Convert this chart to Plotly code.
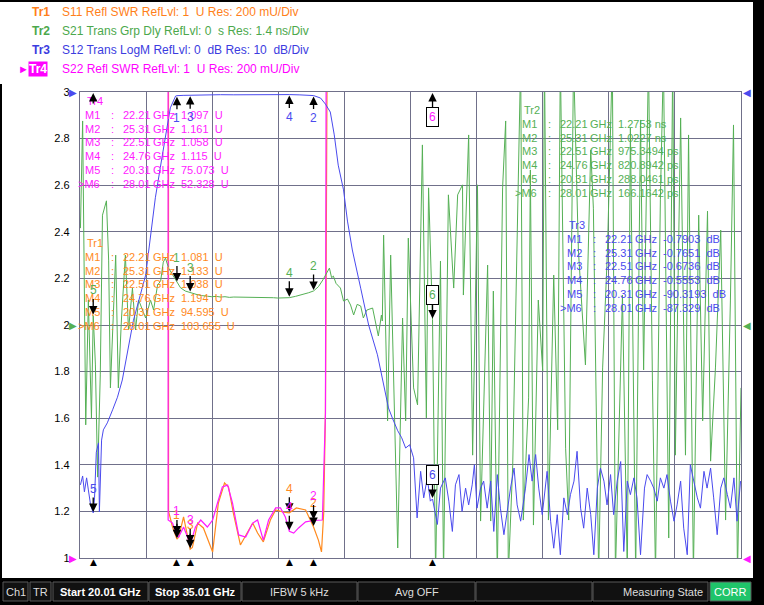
"""VNA screen capture: filter S-parameters (SWR, group delay, LogM) with
marker readouts, redrawn with plotly."""

import plotly.graph_objects as go

FONT = "Liberation Sans"
ORANGE = "#ff8a1e"
GREEN = "#55b055"
BLUE = "#4a4aee"
MAGENTA = "#ff1aff"
GRID = "#70708a"

# ---- marker readouts -------------------------------------------------------
MARKER_GHZ = [22.21, 25.31, 22.51, 24.76, 20.31, 28.01]
MARKER_NAMES = ["M1", "M2", "M3", "M4", "M5", ">M6"]

TR1_MARK_U = [1.081, 1.133, 1.038, 1.194, 94.595, 103.655]
TR2_MARK_NS = [1.2753, 1.0227, 0.9753494, 0.8208942, 0.2880461, 0.1661642]
TR3_MARK_DB = [-0.7903, -0.7651, -0.6736, -0.5553, -90.3193, -87.329]
TR4_MARK_U = [1.097, 1.161, 1.058, 1.115, 75.073, 52.328]

TR1_READ = ["1.081  U", "1.133  U", "1.038  U", "1.194  U", "94.595  U", "103.655  U"]
TR2_READ = ["1.2753 ns", "1.0227 ns", "975.3494 ps", "820.8942 ps",
            "288.0461 ps", "166.1642 ps"]
TR3_READ = ["-0.7903  dB", "-0.7651  dB", "-0.6736  dB", "-0.5553  dB",
            "-90.3193  dB", "-87.329  dB"]
TR4_READ = ["1.097  U", "1.161  U", "1.058  U", "1.115  U", "75.073  U", "52.328  U"]

# ---- Tr1: S11 SWR ----------------------------------------------------------
TR1_GHZ = [20.01, 20.31, 21.2, 21.99, 22.02, 22.11, 22.18, 22.21, 22.25, 22.36,
           22.47, 22.51, 22.56, 22.68, 22.81, 23.02, 23.15, 23.29, 23.38, 23.49,
           23.65, 23.81, 23.93, 24.04, 24.17, 24.33, 24.45, 24.63, 24.76, 24.92,
           25.13, 25.31, 25.42, 25.49, 25.54, 25.58, 25.63, 25.66, 28.01, 35.01]
TR1_SWR = [96.0, 94.595, 80.0, 40.0, 1.20, 1.133, 1.099, 1.081, 1.090, 1.176,
           1.077, 1.038, 1.045, 1.150, 1.129, 1.026, 1.236, 1.322, 1.305, 1.193,
           1.056, 1.107, 1.150, 1.107, 1.069, 1.163, 1.206, 1.197, 1.194, 1.215,
           1.206, 1.133, 1.077, 1.026, 1.193, 1.62, 3.6, 40.0, 103.655, 110.0]

# ---- Tr4: S22 SWR ----------------------------------------------------------
TR4_GHZ = [20.01, 20.31, 21.2, 21.99, 22.01, 22.11, 22.18, 22.21, 22.25, 22.36,
           22.45, 22.51, 22.63, 22.75, 22.90, 23.02, 23.13, 23.24, 23.36, 23.47,
           23.61, 23.77, 23.93, 24.04, 24.17, 24.29, 24.45, 24.56, 24.67, 24.76,
           24.86, 24.97, 25.13, 25.31, 25.51, 25.54, 25.58, 25.60, 25.62, 28.01,
           35.01]
TR4_SWR = [78.0, 75.073, 70.0, 45.0, 1.163, 1.150, 1.107, 1.097, 1.090, 1.133,
           1.090, 1.058, 1.133, 1.163, 1.133, 1.163, 1.236, 1.305, 1.313, 1.236,
           1.099, 1.090, 1.150, 1.163, 1.077, 1.163, 1.215, 1.215, 1.176, 1.115,
           1.107, 1.129, 1.155, 1.161, 1.163, 1.335, 1.622, 3.5, 45.0, 52.328,
           60.0]

# ---- Tr2: S21 group delay (ns) ---------------------------------------------
TR2_GHZ = [20.02, 20.07, 20.14, 20.20, 20.27, 20.31, 20.36, 20.41, 20.47, 20.52,
           20.61, 20.66, 20.70, 20.77, 20.82, 20.88, 20.95, 21.04, 21.11, 21.20,
           21.27, 21.34, 21.43, 21.50, 21.61, 21.68, 21.77, 21.84, 21.90, 21.95,
           22.02, 22.11, 22.21, 22.29, 22.40, 22.51, 22.60, 22.70, 22.80, 22.90,
           23.00, 23.10, 23.20, 23.30, 23.40, 23.50, 23.60, 23.70, 23.80, 23.90,
           24.00, 24.10, 24.20, 24.30, 24.40, 24.50, 24.60, 24.76, 24.90, 25.05,
           25.20, 25.31, 25.42, 25.52, 25.62, 25.67, 25.72, 25.76, 25.82, 25.92,
           25.99, 26.08, 26.15, 26.22, 26.30, 26.38, 26.44, 26.52, 26.65, 26.78,
           26.85, 26.87, 26.90, 26.99, 27.06, 27.22, 27.33, 27.40, 27.46, 27.58,
           27.67, 27.78, 27.87, 27.92, 28.01, 28.08, 28.19, 28.26, 28.37, 28.49,
           28.58, 28.69, 28.71, 28.83, 28.92, 29.03, 29.10, 29.26, 29.33, 29.39,
           29.48, 29.60, 29.67, 29.73, 29.83, 29.94, 30.01, 30.07, 30.19, 30.23,
           30.30, 30.41, 30.51, 30.55, 30.64, 30.76, 30.85, 30.91, 31.03, 31.10,
           31.21, 31.32, 31.44, 31.48, 31.60, 31.66, 31.78, 31.87, 31.98, 32.09,
           32.16, 32.32, 32.43, 32.50, 32.62, 32.73, 32.80, 32.91, 33.00, 33.07,
           33.18, 33.25, 33.37, 33.46, 33.52, 33.64, 33.75, 33.82, 33.93, 34.05,
           34.14, 34.25, 34.32, 34.43, 34.55, 34.66, 34.77, 34.84, 34.93, 35.01]
TR2_NS = [2.91, 6.13, -3.0, 0.75, -2.8, 0.288, -1.2, -4.57, -1.50, 3.30,
          3.73, 1.95, -1.89, 0.75, 2.10, -1.89, 0.15, 2.10, -0.15, 1.11,
          -0.15, 0.75, 0.45, 0.21, 0.75, 0.45, 1.20, 1.32, 1.89, 2.01,
          1.71, 1.50, 1.2753, 1.12, 1.02, 0.9753, 0.93, 0.90, 0.88, 0.86,
          0.85, 0.86, 0.84, 0.85, 0.83, 0.84, 0.84, 0.82, 0.83, 0.82,
          0.83, 0.82, 0.82, 0.83, 0.82, 0.81, 0.81, 0.8209, 0.86, 0.91,
          0.97, 1.0227, 1.15, 1.35, 1.62, 1.71, 1.42, 1.47, 1.25, 1.11,
          0.72, 0.78, 0.60, 0.30, 0.62, 0.57, 0.21, 0.45, 0.51, -0.33,
          0.30, 0.12, 2.70, -2.88, 2.10, -6.70, 0.21, -2.88, 2.61, -1.89,
          -2.40, 5.41, -2.79, 4.12, 0.166, -7.5, 1.92, -7.5, 3.91, 1.11,
          3.91, 4.21, 0.90, 5.71, -3.91, 4.21, -5.89, 1.80, -5.89, 1.02,
          -7.5, 4.12, 6.13, -7.5, -4.21, 3.91, 8.0, -5.86, -2.19, 4.66,
          -6.01, 0.75, -1.38, 8.0, -5.86, 1.50, -3.15, 8.0, -3.70, -5.86,
          8.0, 2.25, -0.18, -1.20, 5.26, 3.51, -7.5, -1.29, 2.25, 8.0,
          -7.5, 0.90, -7.5, 5.92, -7.5, 6.16, -1.35, 8.0, -1.68, -7.5,
          3.76, 8.0, -6.40, 8.0, -3.91, 6.22, -3.91, 5.71, -7.5, 3.30,
          -2.88, 3.42, -4.09, -1.29, 2.85, -5.86, 0.75, 6.01, -7.5, -1.89]

# ---- Tr3: S12 LogM (dB) ----------------------------------------------------
TR3_GHZ = [20.02, 20.07, 20.11, 20.16, 20.20, 20.25, 20.31, 20.34, 20.38, 20.43,
           20.45, 20.50, 20.54, 20.63, 20.75, 20.86, 20.97, 21.22, 21.50, 21.72,
           21.88, 22.06, 22.18, 22.21, 22.35, 22.51, 22.80, 23.20, 23.50, 23.90,
           24.30, 24.76, 25.00, 25.31, 25.47, 25.58, 25.69, 25.78, 25.87, 25.99,
           26.08, 26.19, 26.38, 26.56, 26.76, 26.87, 27.01, 27.10, 27.22, 27.31,
           27.40, 27.49, 27.58, 27.66, 27.74, 27.81, 27.89, 27.96, 28.01, 28.12,
           28.19, 28.30, 28.38, 28.46, 28.53, 28.61, 28.68, 28.76, 28.83, 28.91,
           28.96, 29.02, 29.10, 29.17, 29.25, 29.33, 29.40, 29.48, 29.55, 29.63,
           29.70, 29.78, 29.86, 29.93, 30.01, 30.12, 30.20, 30.27, 30.35, 30.42,
           30.50, 30.61, 30.69, 30.76, 30.84, 30.91, 30.99, 31.07, 31.14, 31.22,
           31.29, 31.37, 31.44, 31.52, 31.60, 31.67, 31.75, 31.82, 31.90, 31.97,
           32.05, 32.12, 32.20, 32.28, 32.35, 32.43, 32.50, 32.58, 32.65, 32.73,
           32.82, 32.88, 32.96, 33.03, 33.11, 33.18, 33.26, 33.33, 33.41, 33.49,
           33.56, 33.64, 33.71, 33.79, 33.86, 33.94, 34.02, 34.09, 34.17, 34.24,
           34.32, 34.39, 34.47, 34.55, 34.62, 34.70, 34.77, 34.85, 34.92, 35.00]
TR3_DB = [-84.3, -82.4, -85.8, -82.8, -85.4, -88.6, -90.3193, -87.1, -77.3, -75.3,
          -90.1, -74.7, -72.5, -71.0, -68.2, -65.5, -61.8, -49.1, -39.3, -22.7,
          -13.5, -3.4, -0.86, -0.7903, -0.72, -0.6736, -0.62, -0.58, -0.60, -0.55,
          -0.57, -0.5553, -0.62, -0.7651, -1.3, -2.6, -4.3, -9.2, -15.7, -21.0,
          -27.7, -33.9, -42.1, -50.0, -56.4, -61.4, -67.8, -70.0, -72.7, -74.2,
          -76.4, -75.7, -78.5, -91.4, -81.4, -87.1, -82.8, -87.8, -87.329, -92.8,
          -85.0, -82.8, -87.8, -94.3, -84.3, -82.1, -90.0, -85.0, -88.6, -84.3,
          -80.0, -89.3, -85.0, -83.5, -89.3, -83.5, -94.3, -82.1, -89.3, -95.0,
          -90.0, -85.0, -80.7, -88.6, -92.1, -85.0, -77.8, -83.5, -77.8, -85.0,
          -90.7, -81.4, -92.1, -97.9, -90.7, -99.3, -87.1, -90.7, -86.4, -83.5,
          -77.1, -89.3, -93.6, -85.0, -90.7, -99.3, -85.0, -80.7, -83.5, -88.6,
          -82.1, -90.7, -83.5, -79.3, -98.6, -83.5, -86.4, -82.8, -87.1, -99.3,
          -85.0, -82.1, -83.5, -85.0, -87.8, -82.8, -85.0, -82.1, -87.8, -92.1,
          -88.6, -83.5, -93.6, -99.3, -80.0, -83.5, -87.1, -89.3, -81.4, -85.0,
          -80.7, -87.1, -95.0, -85.0, -82.8, -86.4, -89.3, -82.8, -92.1, -83.5]

HEADER = [
    ("Tr1", "S11 Refl SWR RefLvl: 1  U Res: 200 mU/Div", "#ff7f1a"),
    ("Tr2", "S21 Trans Grp Dly RefLvl: 0  s Res: 1.4 ns/Div", "#4ca84c"),
    ("Tr3", "S12 Trans LogM RefLvl: 0  dB Res: 10  dB/Div", "#3c3ce0"),
    ("Tr4", "S22 Refl SWR RefLvl: 1  U Res: 200 mU/Div", "#ff00ff"),
]

STATUS = [
    (3, 28, "Ch1", False), (30, 51, "TR", False),
    (53, 148, "Start 20.01 GHz", True), (149, 241, "Stop 35.01 GHz", True),
    (242, 357, "IFBW 5 kHz", False), (358, 475, "Avg OFF", False),
    (476, 592, "", False), (593, 708, "Measuring State", False),
]

# plot area in screen pixels
L, T, W, H = 80, 92, 661, 466


def px(x):
    return (x - L) / W


def py(y):
    return (T + H - y) / H


def text_at(x, y, text, color, size=11, anchor="left", bold=False, **kw):
    if bold:
        text = f"<b>{text}</b>"
    return dict(x=px(x), y=py(y), xref="paper", yref="paper", text=text,
                showarrow=False, xanchor=anchor, yanchor="middle",
                font=dict(family=FONT, size=size, color=color), **kw)


def marker_arrow(x, y, yref, label, color, ay, box=False):
    ann = dict(x=x, y=y, xref="x", yref=yref, text=label, showarrow=True,
               arrowhead=2, arrowsize=1.3, arrowwidth=1.3, arrowcolor="black",
               ax=0, ay=ay, standoff=1,
               font=dict(family=FONT, size=12, color=color))
    if box:
        ann.update(bordercolor="black", borderwidth=1, borderpad=2, bgcolor="white")
    return ann


def marker_table(x, y, title, color, readouts):
    anns = [text_at(x, y, title, color)]
    for i, (name, ghz, val) in enumerate(zip(MARKER_NAMES, MARKER_GHZ, readouts)):
        yy = y + 13.8 * (i + 1)
        anns.append(text_at(x + 17, yy, name, color, anchor="right"))
        anns.append(text_at(x + 24, yy, ":", color))
        anns.append(text_at(x + 36, yy, f"{ghz:.2f}", color))
        anns.append(text_at(x + 66, yy, "GHz", color))
        anns.append(text_at(x + 94, yy, val.replace(" ", "\u00a0"), color))
    return anns


def main() -> None:
    fig = go.Figure()
    fig.add_trace(go.Scatter(x=TR2_GHZ, y=TR2_NS, yaxis="y2", mode="lines",
                             line=dict(color=GREEN, width=1)))
    fig.add_trace(go.Scatter(x=TR3_GHZ, y=TR3_DB, yaxis="y3", mode="lines",
                             line=dict(color=BLUE, width=1)))
    fig.add_trace(go.Scatter(x=TR1_GHZ, y=TR1_SWR, mode="lines",
                             line=dict(color=ORANGE, width=1.2)))
    fig.add_trace(go.Scatter(x=TR4_GHZ, y=TR4_SWR, mode="lines",
                             line=dict(color=MAGENTA, width=1.2)))

    anns = []
    # header lines
    for i, (tag, desc, color) in enumerate(HEADER):
        yy = 12 + 19 * i
        if tag == "Tr4":
            anns.append(text_at(28, yy, tag, "white", size=12, bold=True,
                                bgcolor="#ff00ff", borderpad=0))
            anns.append(text_at(16, yy, "\u25ba", "#ff00ff", size=11))
        else:
            anns.append(text_at(30, yy, tag, color, size=12, bold=True))
        anns.append(text_at(60, yy, desc, color, size=12))

    # marker readout tables
    anns += marker_table(85, 101, "Tr4", MAGENTA, TR4_READ)
    anns += marker_table(85, 243, "Tr1", ORANGE, TR1_READ)
    anns += marker_table(522, 110, "Tr2", GREEN, TR2_READ)
    anns += marker_table(567, 225, "Tr3", BLUE, TR3_READ)

    # markers on the traces
    for i, (ghz, lbl) in enumerate(zip(MARKER_GHZ, "123456")):
        if i < 4:
            anns.append(marker_arrow(ghz, TR3_MARK_DB[i], "y3", lbl, BLUE, 22))
            anns.append(marker_arrow(ghz, TR2_MARK_NS[i], "y2", lbl, GREEN, -25))
            anns.append(marker_arrow(ghz, TR1_MARK_U[i], "y", lbl, ORANGE, -24))
            anns.append(marker_arrow(ghz, TR4_MARK_U[i], "y", lbl, MAGENTA, -24))
        elif i == 4:
            anns.append(marker_arrow(ghz, TR3_MARK_DB[i], "y3", lbl, BLUE, -24))
            anns.append(marker_arrow(ghz, TR2_MARK_NS[i], "y2", lbl, GREEN, -25))
            anns.append(marker_arrow(ghz, 3.0, "y", " ", MAGENTA, 20))
        else:
            anns.append(marker_arrow(ghz, TR3_MARK_DB[i], "y3", lbl, BLUE, -24, box=True))
            anns.append(marker_arrow(ghz, TR2_MARK_NS[i], "y2", lbl, GREEN, -24, box=True))
            anns.append(marker_arrow(ghz, 3.0, "y", lbl, MAGENTA, 25, box=True))
        # stimulus position triangles under the grid
        anns.append(dict(x=ghz, y=py(562), xref="x", yref="paper", text="\u25b2",
                         showarrow=False, yanchor="middle",
                         font=dict(family="DejaVu Sans", size=9, color="black")))

    # reference level triangles on both sides
    for ref_y, yref, color in [(0, "y3", BLUE), (0, "y2", GREEN), (1, "y", MAGENTA)]:
        for xx, glyph in [(px(73), "\u25b6"), (px(747), "\u25c0")]:
            anns.append(dict(x=xx, y=ref_y, xref="paper", yref=yref, text=glyph,
                             showarrow=False, xanchor="center", yanchor="middle",
                             font=dict(family="DejaVu Sans", size=10, color=color)))

    shapes = []

    def rect(x0, y0, x1, y1, fill, line=None):
        shapes.append(dict(type="rect", xref="paper", yref="paper",
                           x0=px(x0), x1=px(x1), y0=py(y1), y1=py(y0),
                           fillcolor=fill, line=dict(width=1 if line else 0,
                                                     color=line or fill),
                           layer="above"))

    rect(0, 0, 764, 2, "black")
    rect(0, 84, 2, 578, "black")
    rect(753, 0, 764, 605, "black")
    rect(0, 578, 764, 605, "black")
    for x0, x1, label, bold in STATUS:
        rect(x0, 582, x1, 601, "#111111", "#5a5a5a")
        if label:
            anchor = "right" if label == "Measuring State" else "center"
            xx = x1 - 3 if anchor == "right" else (x0 + x1) / 2
            anns.append(text_at(xx, 592, label, "white" if bold else "#dddddd",
                                size=11, anchor=anchor, bold=bold))
    rect(710, 582, 751, 601, "#1fc46a", "#5a5a5a")
    anns.append(text_at(730, 592, "CORR", "white", size=11, anchor="center"))

    axis_common = dict(showgrid=True, gridcolor=GRID, gridwidth=1.3, zeroline=False,
                       showline=True, linecolor=GRID, linewidth=1.3, mirror=True,
                       ticks="")
    fig.update_layout(
        width=764,
        height=605,
        margin=dict(l=L, r=764 - L - W, t=T, b=605 - T - H),
        paper_bgcolor="white",
        plot_bgcolor="white",
        showlegend=False,
        xaxis=dict(range=[20.01, 35.01], tick0=20.01, dtick=1.5,
                   showticklabels=False, **axis_common),
        yaxis=dict(range=[1, 3], tick0=1, dtick=0.2, ticklabelstandoff=7,
                   tickfont=dict(family=FONT, size=11, color="black"),
                   **axis_common),
        yaxis2=dict(range=[-7, 7], overlaying="y", visible=False),
        yaxis3=dict(range=[-100, 0], overlaying="y", visible=False),
        annotations=anns,
        shapes=shapes,
    )
    # the page body has a default 8px margin; drop it so the figure sits at 0,0
    fig.write_html("out.html", config={"displayModeBar": False},
                   post_script="document.body.style.margin='0';")


if __name__ == "__main__":
    main()
